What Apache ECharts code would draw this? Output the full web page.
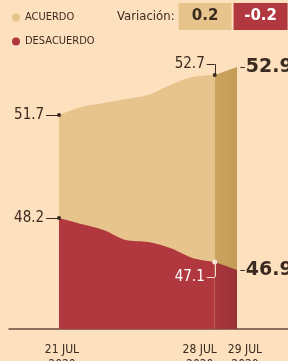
<!DOCTYPE html>
<html>
<head>
<meta charset="utf-8">
<script src="https://cdn.jsdelivr.net/npm/echarts@6/dist/echarts.min.js"></script>
<style>
  html, body { margin: 0; padding: 0; background: #fde1bf; }
  #chart { width: 288px; height: 361px; }
</style>
</head>
<body>
<div id="chart"></div>
<script>
// días de julio 2020
const days = [21, 22, 23, 24, 25, 26, 27, 28, 29]
const acuerdo = [51.7, 51.9, 52.0, 52.1, 52.2, 52.45, 52.65, 52.7, 52.9]
const desacuerdo = [48.2, 48.05, 47.9, 47.65, 47.6, 47.45, 47.2, 47.1, 46.9]
const tickDays = [21, 28]
const lastDay = [29]
const variacion = ['0.2', '-0.2']

const narrow = "'DejaVu Sans Condensed', sans-serif"
const bold = "'DejaVu Sans', sans-serif"
const ink = '#3b2a20'
const tan = '#e6c48b'
const red = '#b1383e'

const pairs = (vals, from, to) => days.slice(from, to).map((d, i) => [d, vals[from + i]])
const n = days.length

const chart = echarts.init(document.getElementById('chart'))

const dayLabel = (style) => (v) => '{' + style(v) + '|' + v + ' JUL}\n{' + style(v) + '|2020}'
const labelRich = {
  o: { fontFamily: narrow, fontSize: 12, lineHeight: 15, color: ink, padding: [0, 0, 0, 6] },
  p: { fontFamily: narrow, fontSize: 12, lineHeight: 15, color: ink, padding: [0, 30, 0, 0] },
  q: { fontFamily: narrow, fontSize: 12, lineHeight: 15, color: ink, padding: [0, 0, 0, 16] }
}
const xBase = {
  type: 'value',
  min: 18.753,
  max: 31.292,
  axisTick: { show: false },
  splitLine: { show: false }
}

const option = {
  backgroundColor: '#fde1bf',
  animation: false,
  title: {
    left: 117,
    top: 3,
    padding: 0,
    text: '{l|Variación:}{s|}{a|' + variacion[0] + '}{g|}{b|' + variacion[1] + '}',
    textStyle: {
      rich: {
        l: { fontFamily: narrow, fontWeight: 'normal', fontSize: 13, color: ink, verticalAlign: 'middle' },
        s: { width: 4 },
        a: { width: 53, height: 27, backgroundColor: tan, align: 'center', verticalAlign: 'middle',
             fontFamily: bold, fontWeight: 'bold', fontSize: 15, color: ink },
        g: { width: 2 },
        b: { width: 54, height: 27, backgroundColor: red, align: 'center', verticalAlign: 'middle',
             fontFamily: bold, fontWeight: 'bold', fontSize: 15, color: '#fff' }
      }
    }
  },
  legend: {
    orient: 'vertical',
    left: 12,
    top: 12,
    padding: 0,
    itemGap: 13,
    itemWidth: 8,
    itemHeight: 8,
    icon: 'circle',
    data: ['ACUERDO', 'DESACUERDO'],
    textStyle: { fontFamily: narrow, fontSize: 11, color: ink }
  },
  grid: { left: 9, right: 0, top: 30, bottom: 32, outerBoundsMode: 'none', containLabel: false },
  xAxis: [
    Object.assign({}, xBase, {
      axisLine: { lineStyle: { color: '#6a4a3a', width: 1.5 } },
      axisLabel: {
        customValues: tickDays, showMinLabel: true, showMaxLabel: true, margin: 13,
        formatter: dayLabel((v) => v === 28 ? 'p' : 'o'), rich: labelRich
      }
    }),
    // segundo eje solo para la etiqueta del 29 de julio
    Object.assign({}, xBase, {
      position: 'bottom',
      axisLine: { show: false },
      axisLabel: {
        customValues: lastDay, showMinLabel: true, showMaxLabel: true, margin: 13,
        formatter: dayLabel(() => 'q'), rich: labelRich
      }
    })
  ],
  yAxis: [
    { type: 'value', show: false, min: 46.35, max: 53.825, splitLine: { show: false } },
    { type: 'value', show: false, min: 45.425, max: 52.9, splitLine: { show: false } }
  ],
  series: [
    {
      name: 'ACUERDO',
      type: 'line',
      yAxisIndex: 0,
      smooth: 0.3,
      symbol: 'none',
      color: tan,
      lineStyle: { width: 0 },
      areaStyle: { color: tan, opacity: 1, origin: 'start' },
      data: pairs(acuerdo, 0, n - 1).map((p, i) => i === 0 || i === n - 2
        ? { value: p, symbol: 'circle', symbolSize: 4, itemStyle: { color: ink } } : p),
      markLine: {
        silent: true, symbol: 'none', animation: false,
        lineStyle: { color: ink, width: 1, type: 'solid' },
        label: { show: false },
        data: [
          [{ coord: [20.42, acuerdo[0]], label: { show: true, position: 'start', distance: 2, formatter: String(acuerdo[0]),
              fontFamily: narrow, fontSize: 15, color: ink } }, { coord: [days[0], acuerdo[0]] }],
          [{ coord: [27.64, acuerdo[n - 2] + 0.27], label: { show: true, position: 'start', distance: 2, formatter: String(acuerdo[n - 2]),
              fontFamily: narrow, fontSize: 15, color: ink } }, { coord: [days[n - 2], acuerdo[n - 2] + 0.27] }],
          [{ coord: [days[n - 2], acuerdo[n - 2] + 0.27] }, { coord: [days[n - 2], acuerdo[n - 2]] }]
        ]
      }
    },
    {
      name: 'DESACUERDO',
      type: 'line',
      yAxisIndex: 1,
      smooth: 0.3,
      symbol: 'none',
      color: red,
      lineStyle: { width: 0 },
      areaStyle: { color: red, opacity: 1, origin: 'start' },
      data: pairs(desacuerdo, 0, n - 1).map((p, i) => i === 0
        ? { value: p, symbol: 'circle', symbolSize: 4, itemStyle: { color: ink } }
        : i === n - 2 ? { value: p, symbol: 'circle', symbolSize: 5, itemStyle: { color: '#fbe6dc' } } : p),
      markLine: {
        silent: true, symbol: 'none', animation: false,
        lineStyle: { color: ink, width: 1, type: 'solid' },
        label: { show: false },
        data: [
          [{ coord: [20.42, desacuerdo[0]], label: { show: true, position: 'start', distance: 2, formatter: String(desacuerdo[0]),
              fontFamily: narrow, fontSize: 15, color: ink } }, { coord: [days[0], desacuerdo[0]] }],
          [{ coord: [27.64, desacuerdo[n - 2] - 0.37], lineStyle: { color: '#f6dccf' },
             label: { show: true, position: 'start', distance: 2, formatter: String(desacuerdo[n - 2]),
              fontFamily: narrow, fontSize: 15, color: '#fff' } }, { coord: [days[n - 2], desacuerdo[n - 2] - 0.37] }],
          [{ coord: [days[n - 2], desacuerdo[n - 2] - 0.37], lineStyle: { color: '#f6dccf' } }, { coord: [days[n - 2], desacuerdo[n - 2]] }]
        ]
      }
    },
    {
      name: 'acuerdo-29',
      type: 'line',
      yAxisIndex: 0,
      symbol: 'none',
      lineStyle: { width: 0 },
      areaStyle: {
        opacity: 1, origin: 'start',
        color: new echarts.graphic.LinearGradient(0, 0, 1, 0, [
          { offset: 0, color: '#cba45f' }, { offset: 1, color: '#c49c56' }
        ])
      },
      data: pairs(acuerdo, n - 2, n),
      markLine: {
        silent: true, symbol: 'none', animation: false,
        lineStyle: { color: ink, width: 1, type: 'solid' },
        label: { show: false },
        data: [
          [{ coord: [29.15, acuerdo[n - 1]] }, { coord: [29.35, acuerdo[n - 1]],
            label: { show: true, position: 'end', distance: 1, formatter: String(acuerdo[n - 1]),
              fontFamily: bold, fontWeight: 'bold', fontSize: 19, color: ink } }]
        ]
      }
    },
    {
      name: 'desacuerdo-29',
      type: 'line',
      yAxisIndex: 1,
      symbol: 'none',
      lineStyle: { width: 0 },
      areaStyle: {
        opacity: 1, origin: 'start',
        color: new echarts.graphic.LinearGradient(0, 0, 1, 0, [
          { offset: 0, color: '#a9373c' }, { offset: 1, color: '#983237' }
        ])
      },
      data: pairs(desacuerdo, n - 2, n),
      markLine: {
        silent: true, symbol: 'none', animation: false,
        lineStyle: { color: ink, width: 1, type: 'solid' },
        label: { show: false },
        data: [
          [{ coord: [29.15, desacuerdo[n - 1]] }, { coord: [29.35, desacuerdo[n - 1]],
            label: { show: true, position: 'end', distance: 1, formatter: String(desacuerdo[n - 1]),
              fontFamily: bold, fontWeight: 'bold', fontSize: 19, color: ink } }]
        ]
      }
    }
  ]
}

chart.setOption(option)
</script>
</body>
</html>
